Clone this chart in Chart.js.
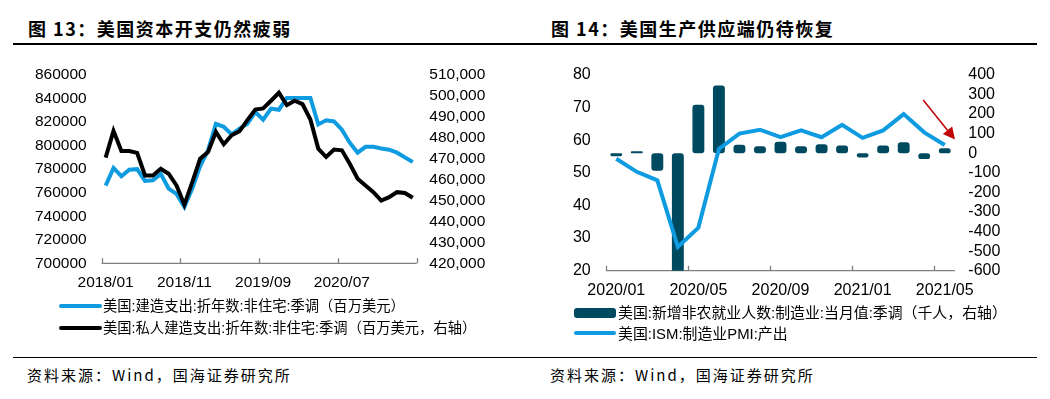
<!DOCTYPE html>
<html>
<head>
<meta charset="utf-8">
<script src="https://cdn.jsdelivr.net/npm/chart.js@4/dist/chart.umd.min.js"></script>
<style>
  html, body { margin: 0; padding: 0; background: #fff; }
  body { width: 1050px; height: 399px; position: relative; overflow: hidden; }
  .abs { position: absolute; white-space: nowrap; }
  .title { font: bold 18px "Noto Sans CJK SC", sans-serif; letter-spacing: 1.5px; line-height: 20px; color: #000; }
  .src { font: 15px "Noto Sans CJK SC", sans-serif; letter-spacing: 2px; line-height: 18px; color: #000; }
  .leg { font-family: "Liberation Sans", "Noto Sans CJK SC", sans-serif; line-height: 18px; color: #000; }
  .rule { position: absolute; background: #000; height: 1.5px; }
  canvas { position: absolute; }
</style>
</head>
<body>
<div class="abs title" style="left:28px;top:18px">图 13：美国资本开支仍然疲弱</div>
<div class="abs title" style="left:551px;top:18px">图 14：美国生产供应端仍待恢复</div>
<div class="rule" style="left:13px;width:1024px;top:43px"></div>

<canvas id="c1" width="525" height="250" style="left:0;top:50px"></canvas>
<canvas id="c2" width="525" height="250" style="left:525px;top:50px"></canvas>

<div class="abs" style="left:59px;top:304px;width:43px;height:4px;background:#0e9be0;border-radius:2px"></div>
<div class="abs leg" style="left:103px;top:297px;font-size:14.3px">美国:建造支出:折年数:非住宅:季调（百万美元）</div>
<div class="abs" style="left:59px;top:326px;width:43px;height:4px;background:#000;border-radius:2px"></div>
<div class="abs leg" style="left:103px;top:319px;font-size:14.3px">美国:私人建造支出:折年数:非住宅:季调（百万美元，右轴）</div>

<div class="abs" style="left:574px;top:308px;width:42px;height:10px;background:#004a60;border-radius:3px"></div>
<div class="abs leg" style="left:618px;top:304px;font-size:14.9px">美国:新增非农就业人数:制造业:当月值:季调（千人，右轴）</div>
<div class="abs" style="left:574px;top:331px;width:42px;height:4px;background:#0e9be0;border-radius:2px"></div>
<div class="abs leg" style="left:618px;top:325px;font-size:14.9px">美国:ISM:制造业PMI:产出</div>

<div class="rule" style="left:13px;width:1024px;top:356.5px"></div>
<div class="abs src" style="left:27px;top:366px">资料来源：Wind，国海证券研究所</div>
<div class="abs src" style="left:550px;top:366px">资料来源：Wind，国海证券研究所</div>

<script>
// 图13 数据
const months13 = [
  "2018/01","2018/02","2018/03","2018/04","2018/05","2018/06","2018/07","2018/08","2018/09","2018/10",
  "2018/11","2018/12","2019/01","2019/02","2019/03","2019/04","2019/05","2019/06","2019/07","2019/08",
  "2019/09","2019/10","2019/11","2019/12","2020/01","2020/02","2020/03","2020/04","2020/05","2020/06",
  "2020/07","2020/08","2020/09","2020/10","2020/11","2020/12","2021/01","2021/02","2021/03","2021/04"
];
const constrTotal = [
  766000, 781000, 774000, 779500, 780000, 770000, 770500, 776000, 763500, 759000,
  748000, 763500, 782500, 796000, 818500, 816000, 809500, 814500, 818500, 828500,
  822000, 831500, 830500, 840500, 840500, 840500, 840500, 818000, 821500, 820500,
  813500, 802500, 794000, 799000, 799000, 797500, 796500, 794000, 790000, 786000
];
const constrPrivate = [
  470500, 483300, 473700, 473700, 472800, 462000, 462000, 465200, 462800, 457200,
  448000, 458800, 470000, 473200, 482800, 476900, 481200, 483100, 488400, 493500,
  494000, 497700, 501500, 495600, 497700, 496100, 488700, 474800, 470800, 474400,
  474000, 467600, 460400, 457200, 454000, 450000, 451600, 454000, 453600, 451300
];
const ticksLeft13 = [700000, 860000, 20000];
const ticksRight13 = [420000, 510000, 10000];

// 图14 数据
const months14 = [
  "2020/01","2020/02","2020/03","2020/04","2020/05","2020/06","2020/07","2020/08","2020/09",
  "2020/10","2020/11","2020/12","2021/01","2021/02","2021/03","2021/04","2021/05"
];
const mfgPayrolls = [-15, 10, -90, -1320, 247, 346, 43, 36, 59, 36, 46, 40, -22, 40, 56, -30, 26];
const pmiOutput = [54.3, 50.3, 47.7, 27.3, 33.2, 57.3, 62.0, 63.2, 60.9, 63.0, 60.9, 64.7, 60.7, 63.0, 68.0, 62.4, 58.5];
const ticksLeft14 = [20, 80, 10];
const ticksRight14 = [-600, 400, 100];
const arrow14 = { from: [14.95, 72.3], to: [16.5, 60.2] };

const BLUE = '#0e9be0';
const NAVY = '#004a60';

// 底部坐标轴 + 向内的刻度
const axisTicks = {
  id: 'axisTicks',
  beforeDatasetsDraw(chart, args, opts) {
    const x = chart.scales.x, ctx = chart.ctx, a = chart.chartArea, y = a.bottom;
    ctx.save();
    ctx.strokeStyle = '#7f7f7f';
    ctx.lineWidth = 1.3;
    ctx.beginPath();
    ctx.moveTo(a.left, y);
    ctx.lineTo(a.right, y);
    opts.marks.forEach(k => {
      const px = Math.round(x.getPixelForValue(k - 0.5)) + 0.5;
      ctx.moveTo(px, y);
      ctx.lineTo(px, y - 5);
    });
    ctx.stroke();
    ctx.restore();
  }
};

const redArrow = {
  id: 'redArrow',
  afterDatasetsDraw(chart, args, opts) {
    if (!opts.arrow) return;
    const x = chart.scales.x, y = chart.scales.yL, ctx = chart.ctx;
    const x0 = x.getPixelForValue(opts.arrow.from[0]), y0 = y.getPixelForValue(opts.arrow.from[1]);
    const x1 = x.getPixelForValue(opts.arrow.to[0]), y1 = y.getPixelForValue(opts.arrow.to[1]);
    const ang = Math.atan2(y1 - y0, x1 - x0), hl = 12, hw = 6;
    const bx = x1 - hl * Math.cos(ang), by = y1 - hl * Math.sin(ang);
    ctx.save();
    ctx.strokeStyle = '#c00000';
    ctx.fillStyle = '#c00000';
    ctx.lineWidth = 1.5;
    ctx.beginPath();
    ctx.moveTo(x0, y0);
    ctx.lineTo(bx, by);
    ctx.stroke();
    ctx.beginPath();
    ctx.moveTo(x1, y1);
    ctx.lineTo(bx + hw * Math.sin(ang), by - hw * Math.cos(ang));
    ctx.lineTo(bx - hw * Math.sin(ang), by + hw * Math.cos(ang));
    ctx.closePath();
    ctx.fill();
    ctx.restore();
  }
};

function yAxis(pos, range, width, pad, size, fmt) {
  return {
    position: pos,
    min: range[0], max: range[1],
    afterFit: s => { s.width = width; },
    grid: { display: false, drawTicks: false },
    border: { display: false },
    ticks: {
      stepSize: range[2], autoSkip: false, padding: pad, color: '#000',
      font: { family: 'Liberation Sans', size: size },
      callback: fmt
    }
  };
}

function xAxis(labels, every, height, size) {
  return {
    type: 'category',
    offset: true,
    afterFit: s => { s.height = height; },
    grid: { display: false, drawTicks: false, offset: true },
    border: { display: false },
    ticks: {
      autoSkip: false, maxRotation: 0, padding: 10, color: '#000',
      font: { family: 'Liberation Sans', size: size },
      callback: (v, i) => (i % every === 0 ? labels[i] : '')
    }
  };
}

const plain = v => String(v);
const comma = v => v.toLocaleString('en-US');

new Chart(document.getElementById('c1'), {
  type: 'line',
  data: {
    labels: months13,
    datasets: [
      {
        label: '美国:私人建造支出:折年数:非住宅:季调（百万美元，右轴）',
        data: constrPrivate, yAxisID: 'yR', order: 0,
        borderColor: '#000', borderWidth: 4, pointRadius: 0, tension: 0
      },
      {
        label: '美国:建造支出:折年数:非住宅:季调（百万美元）',
        data: constrTotal, yAxisID: 'yL', order: 1,
        borderColor: BLUE, borderWidth: 4, pointRadius: 0, tension: 0
      }
    ]
  },
  options: {
    responsive: false, animation: false,
    layout: { padding: { top: 25, left: 0, right: 0, bottom: 0 } },
    plugins: { legend: { display: false }, tooltip: { enabled: false }, axisTicks: { marks: [0, 10, 20, 30, 40] } },
    scales: {
      x: xAxis(months13, 10, 36.7, 15.5),
      yL: yAxis('left', ticksLeft13, 101.7, 15, 15.5, plain),
      yR: yAxis('right', ticksRight13, 108.3, 12.6, 15.5, comma)
    }
  },
  plugins: [axisTicks]
});

new Chart(document.getElementById('c2'), {
  type: 'bar',
  data: {
    labels: months14,
    datasets: [
      {
        type: 'line',
        label: '美国:ISM:制造业PMI:产出',
        data: pmiOutput, yAxisID: 'yL', order: 0,
        borderColor: BLUE, borderWidth: 4, pointRadius: 0, tension: 0
      },
      {
        label: '美国:新增非农就业人数:制造业:当月值:季调（千人，右轴）',
        data: mfgPayrolls, yAxisID: 'yR', order: 1,
        backgroundColor: NAVY, borderRadius: 3, borderSkipped: false,
        barPercentage: 0.58, categoryPercentage: 1
      }
    ]
  },
  options: {
    responsive: false, animation: false,
    layout: { padding: { top: 18.3, left: 0, right: 0, bottom: 0 } },
    plugins: {
      legend: { display: false }, tooltip: { enabled: false },
      axisTicks: { marks: [0, 4, 8, 12, 16] },
      redArrow: { arrow: arrow14 }
    },
    scales: {
      x: xAxis(months14, 4, 29.3, 16),
      yL: yAxis('left', ticksLeft14, 81, 15.3, 16, plain),
      yR: yAxis('right', ticksRight14, 95, 13.3, 16, plain)
    }
  },
  plugins: [axisTicks, redArrow]
});
</script>
</body>
</html>
